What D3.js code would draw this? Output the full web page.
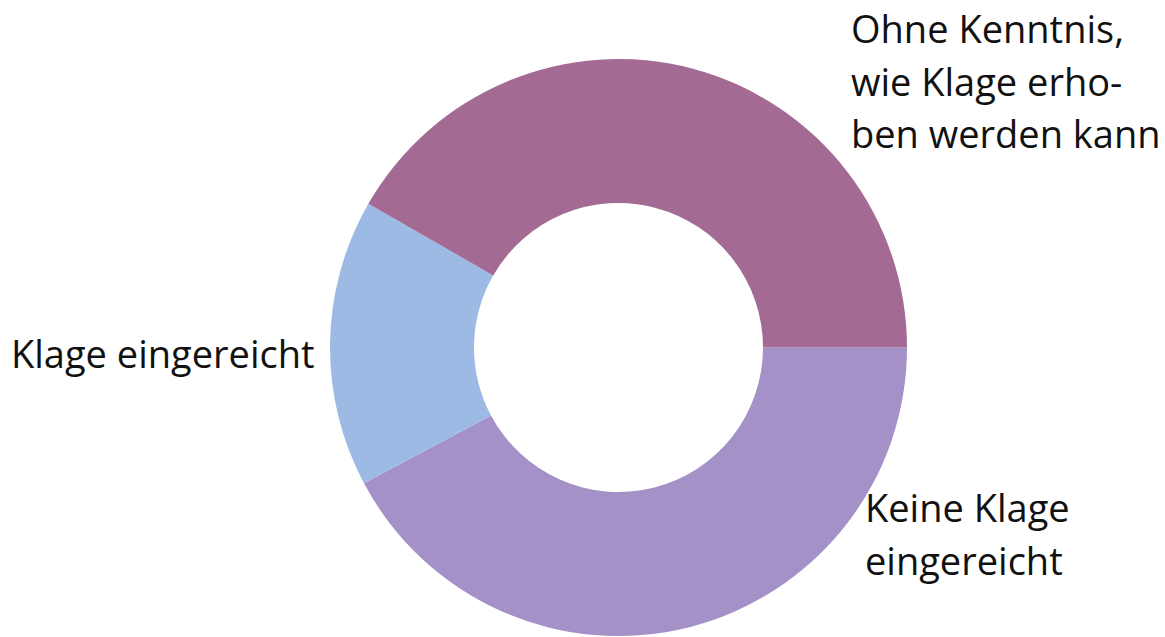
<!DOCTYPE html>
<html>
<head>
<meta charset="utf-8">
<script src="https://cdn.jsdelivr.net/npm/d3@7"></script>
<style>
  body { margin: 0; background: #fff; }
  text { font-family: "Open Sans", "Noto Sans", sans-serif; fill: #111; }
</style>
</head>
<body>
<svg id="chart"></svg>
<script>
// slice values (percent), drawn clockwise from 3 o'clock
const categories = ["Keine Klage eingereicht", "Klage eingereicht", "Ohne Kenntnis, wie Klage erhoben werden kann"];
const values = [42.2, 16.1, 41.7];
const colors = ["#a391c7", "#9dbae5", "#a36b94"];
const labelLines = [
  ["Keine Klage", "eingereicht"],
  ["Klage eingereicht"],
  ["Ohne Kenntnis,", "wie Klage erho-", "ben werden kann"]
];

const width = 1165, height = 637;
const cx = 618.5, cy = 347.5, outerR = 288.5, innerR = 144.5;

const svg = d3.select("#chart")
  .attr("width", width)
  .attr("height", height);

const pie = d3.pie()
  .sort(null)
  .value(d => d)
  .startAngle(Math.PI / 2)
  .endAngle(Math.PI / 2 + 2 * Math.PI);

const arc = d3.arc()
  .innerRadius(innerR)
  .outerRadius(outerR);

const g = svg.append("g")
  .attr("transform", "translate(" + cx + "," + cy + ")");

g.selectAll("path")
  .data(pie(values))
  .enter()
  .append("path")
  .attr("d", arc)
  .attr("fill", (d, i) => colors[i]);

// label placement (left x, first baseline)
const labelPos = [
  [865, 522],
  [11, 368],
  [851, 43]
];
const lineH = 52.5;

labelLines.forEach((lines, i) => {
  const t = svg.append("text")
    .attr("x", labelPos[i][0])
    .attr("y", labelPos[i][1])
    .attr("font-size", 38);
  lines.forEach((l, j) => {
    t.append("tspan")
      .attr("x", labelPos[i][0])
      .attr("dy", j === 0 ? 0 : lineH)
      .text(l);
  });
});
</script>
</body>
</html>
